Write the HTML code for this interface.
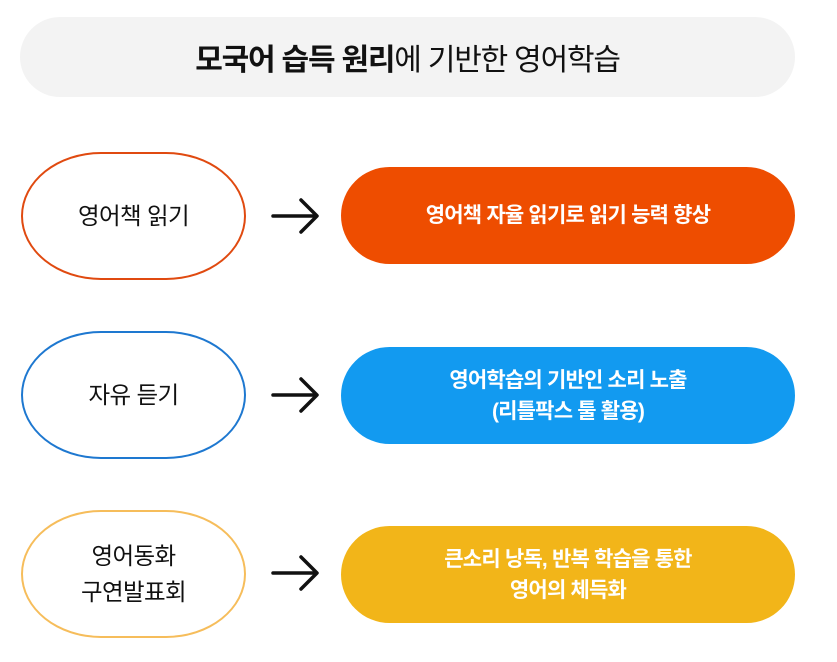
<!DOCTYPE html>
<html><head><meta charset="utf-8"><style>
body{margin:0;width:837px;height:662px;background:#fff;font-family:"Liberation Sans","Noto Sans CJK KR",sans-serif;position:relative;overflow:hidden}
.a{position:absolute;display:flex;align-items:center;justify-content:center;text-align:center;box-sizing:border-box}
.t{left:20px;top:17px;width:775px;height:80px;background:#f3f3f3;border-radius:40px;font-size:30px;color:#111;letter-spacing:-1.2px}
.o{left:21px;width:225px;height:128px;border-radius:80px/64px;background:#fff;border:2.5px solid;font-size:23.5px;color:#111;line-height:36px;letter-spacing:-0.6px}
.p{left:341px;width:454px;height:97px;border-radius:49px;color:#fff;font-weight:bold;font-size:21px;line-height:31px;letter-spacing:-0.8px}
svg{position:absolute;left:270px}
</style></head><body>
<div class="a t"><span><b>모국어 습득 원리</b>에 기반한 영어학습</span></div>

<div class="a o" style="top:152px;border-color:#e04a10">영어책 읽기</div>
<svg style="top:196px" width="52" height="40"><path d="M3 20H46M31 4L47 20L31 36" fill="none" stroke="#111" stroke-width="3.5" stroke-linecap="round" stroke-linejoin="round"/></svg>
<div class="a p" style="top:167px;background:#ee4d00">영어책 자율 읽기로 읽기 능력 향상</div>

<div class="a o" style="top:331px;border-color:#1e78d0">자유 듣기</div>
<svg style="top:375px" width="52" height="40"><path d="M3 20H46M31 4L47 20L31 36" fill="none" stroke="#111" stroke-width="3.5" stroke-linecap="round" stroke-linejoin="round"/></svg>
<div class="a p" style="top:347px;background:#129af0">영어학습의 기반인 소리 노출<br>(리틀팍스 툴 활용)</div>

<div class="a o" style="top:510px;border-color:#f6bd5b">영어동화<br>구연발표회</div>
<svg style="top:553px" width="52" height="40"><path d="M3 20H46M31 4L47 20L31 36" fill="none" stroke="#111" stroke-width="3.5" stroke-linecap="round" stroke-linejoin="round"/></svg>
<div class="a p" style="top:526px;background:#f2b519">큰소리 낭독, 반복 학습을 통한<br>영어의 체득화</div>
</body></html>
